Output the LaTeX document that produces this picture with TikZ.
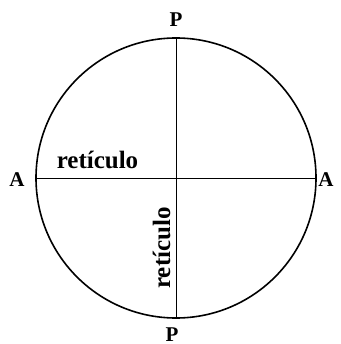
\documentclass[tikz,border=0pt]{standalone}
\usepackage{fontspec}
\setmainfont{Liberation Serif}
\usetikzlibrary{positioning}
\tikzset{
    retRing/.style={circle, draw=black, line width=1.6pt, minimum size=280pt, inner sep=0pt},
    retLine/.style={draw=black, line width=0.9pt},
    retPole/.style={font=\fontsize{21}{24}\selectfont\bfseries, inner sep=0pt},
    retWord/.style={font=\fontsize{25}{28}\selectfont\bfseries, inner sep=0pt}
}
\begin{document}
\begin{tikzpicture}[x=1pt,y=-1pt]
    \useasboundingbox (0,0) rectangle (340,344);
    \node[retRing] (ring) at (176,178) {};
    % cross-hairs
    \draw[retLine] (ring.north) -- (ring.south);
    \draw[retLine] (ring.west) -- (ring.east);
    % poles
    \node[retPole, anchor=base] (pTop) at (176,27) {P};
    \node[retPole, anchor=base] (pBot) at (172,341) {P};
    \node[retPole, anchor=base] (aLeft) at (17,186) {A};
    \node[retPole, anchor=base] (aRight) at (326,186) {A};
    % labels on the hairs
    \node[retWord, anchor=base] (hWord) at (97.5,168) {retículo};
    \node[retWord, rotate=90, anchor=base] (vWord) at (170,248) {retículo};
\end{tikzpicture}
\end{document}
